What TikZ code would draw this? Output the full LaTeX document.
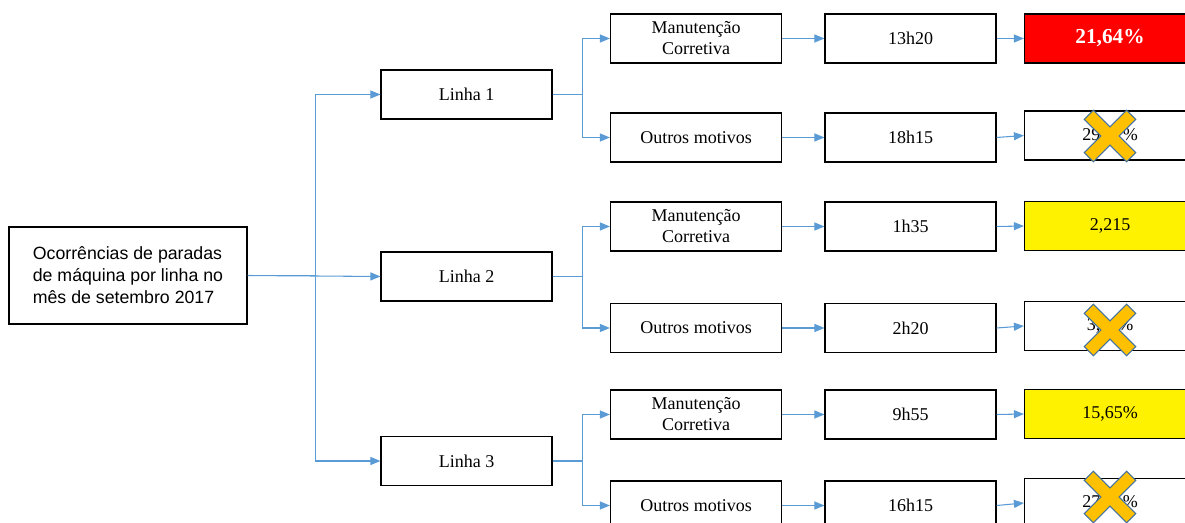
\documentclass[tikz,border=0pt]{standalone}
\usepackage{fontspec}
\setmainfont{Liberation Serif}
\newfontfamily\arialfont{Liberation Sans}
\usetikzlibrary{arrows.meta}
\definecolor{azulseta}{HTML}{5B9BD5}
\definecolor{laranjax}{HTML}{FFC000}
\definecolor{bordax}{HTML}{41719C}
\newcommand{\marcax}[1]{%
  \begin{scope}[shift={(#1)},rotate=45]
    \draw[xmark] (6.5,30) -- (6.5,6.5) -- (30,6.5) -- (30,-6.5) -- (6.5,-6.5) -- (6.5,-30)
      -- (-6.5,-30) -- (-6.5,-6.5) -- (-30,-6.5) -- (-30,6.5) -- (-6.5,6.5) -- (-6.5,30) -- cycle;
  \end{scope}}

\begin{document}
\begin{tikzpicture}[x=0.75pt,y=-0.75pt,
      every node/.append style={font=\fontsize{13.5}{15.75}\selectfont},
      conn/.style={draw=azulseta,line width=0.8pt,-{Triangle[length=7.5pt,width=6pt]}}]
    \tikzstyle{caixa} = [draw=black,line width=1.1pt,minimum width=128pt,minimum height=36.75pt,inner sep=0pt,align=center]
    \tikzstyle{xmark} = [fill=laranjax,draw=bordax,line width=0.8pt]
    \useasboundingbox (0,0) rectangle (1185,523);
    % raiz
    \node[caixa,minimum width=178.5pt,minimum height=72.75pt,align=left,
      font=\arialfont\fontsize{13.3}{16.5}\selectfont] (root) at (128,275.5)
      {Ocorrências de paradas\\de máquina por linha no\\mês de setembro 2017};
    % linhas
    \node[caixa] (linha1) at (466.5,94.5) {Linha 1};
    \node[caixa] (linha2) at (466.5,276.5) {Linha 2};
    \node[caixa] (linha3) at (466.5,461) {Linha 3};
    % motivos
    \node[caixa] (mc1) at (696,38.5) {Manutenção\\Corretiva};
    \node[caixa] (om1) at (696,137.5) {Outros motivos};
    \node[caixa] (mc2) at (696,226.5) {Manutenção\\Corretiva};
    \node[caixa] (om2) at (696,328) {Outros motivos};
    \node[caixa] (mc3) at (696,414.5) {Manutenção\\Corretiva};
    \node[caixa] (om3) at (696,505.5) {Outros motivos};
    % tempos
    \node[caixa] (t1) at (910.5,38.5) {13h20};
    \node[caixa] (t2) at (910.5,137.5) {18h15};
    \node[caixa] (t3) at (910.5,226.5) {1h35};
    \node[caixa] (t4) at (910.5,328) {2h20};
    \node[caixa] (t5) at (910.5,414.5) {9h55};
    \node[caixa] (t6) at (910.5,505.5) {16h15};
    % percentuais
    \node[caixa,fill=red,text=white,font=\bfseries\fontsize{16}{18}\selectfont] (p1) at (1110,38.5) {21,64\%};
    \node[caixa] (p2) at (1110,135.5) {29\phantom{,00}\%};
    \node[caixa,fill=yellow] (p3) at (1110,226) {2,215};
    \node[caixa] (p4) at (1110,326) {3,\phantom{00}\%};
    \node[caixa,fill=yellow] (p5) at (1110,414) {15,65\%};
    \node[caixa] (p6) at (1110,503) {27\phantom{,00}\%};
    % setas
    \draw[conn] (root.east) -- (linha2.west);
    \draw[conn] (root.east) -- ++(68,0) |- (linha1.west);
    \draw[conn] (root.east) -- ++(68,0) |- (linha3.west);
    \draw[conn] (linha1.east) -- ++(30,0) |- (mc1.west);
    \draw[conn] (linha1.east) -- ++(30,0) |- (om1.west);
    \draw[conn] (linha2.east) -- ++(30,0) |- (mc2.west);
    \draw[conn] (linha2.east) -- ++(30,0) |- (om2.west);
    \draw[conn] (linha3.east) -- ++(30,0) |- (mc3.west);
    \draw[conn] (linha3.east) -- ++(30,0) |- (om3.west);
    \draw[conn] (mc1) -- (t1);
    \draw[conn] (om1) -- (t2);
    \draw[conn] (mc2) -- (t3);
    \draw[conn] (om2) -- (t4);
    \draw[conn] (mc3) -- (t5);
    \draw[conn] (om3) -- (t6);
    \draw[conn] (t1.east) -- (p1.west);
    \draw[conn] (t2.east) -- (p2.west);
    \draw[conn] (t3.east) -- (p3.west);
    \draw[conn] (t4.east) -- (p4.west);
    \draw[conn] (t5.east) -- (p5.west);
    \draw[conn] (t6.east) -- (p6.west);
    % cruzes
    \marcax{1110,136}
    \marcax{1110,330}
    \marcax{1110,497}
\end{tikzpicture}
\end{document}
